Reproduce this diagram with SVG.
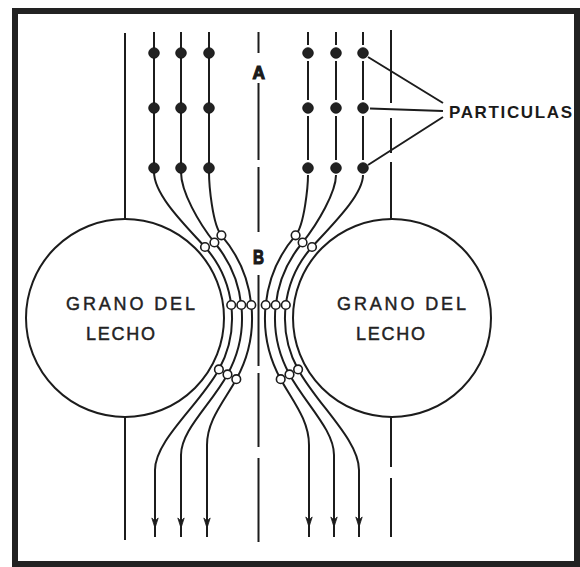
<svg xmlns="http://www.w3.org/2000/svg" xmlns:xlink="http://www.w3.org/1999/xlink" width="580" height="567" viewBox="0 0 580 567">
  <style>
    .ln { fill: none; stroke: #1c1c1c; stroke-width: 2; stroke-linecap: butt; }
    .grain { fill: none; stroke: #1c1c1c; stroke-width: 2; }
    .dot { fill: #222; stroke: #111; stroke-width: 0.8; }
    .ring { fill: #fff; stroke: #1c1c1c; stroke-width: 1.6; }
    .lbl { font-family: "Liberation Sans", Arial, sans-serif; font-size: 18px; fill: #222; stroke: #222; stroke-width: 0.45; }
    .tag { font-family: "Liberation Sans", Arial, sans-serif; font-weight: bold; fill: #1a1a1a; }
    .axis-tag { stroke: #1a1a1a; stroke-width: 1.2; }
  </style>
  <defs>
    <!-- small barbed arrowhead, tip at origin, pointing down -->
    <path id="ah" d="M-3.2,-10 L0,0 L3.2,-10 L0,-7 Z" fill="#1c1c1c" stroke="#1c1c1c" stroke-width="0.8"/>
  </defs>

  <rect x="0" y="0" width="580" height="567" fill="#fff"/>
  <!-- heavy frame -->
  <rect x="15" y="11" width="562" height="553" fill="#fff" stroke="#222" stroke-width="6"/>

  <!-- bed grains -->
  <g id="grain-left">
    <circle class="grain" cx="125" cy="318" r="99"/>
    <text class="lbl" x="66" y="310" textLength="129" lengthAdjust="spacing">GRANO DEL</text>
    <text class="lbl" x="86" y="340" textLength="69" lengthAdjust="spacing">LECHO</text>
  </g>
  <g id="grain-right">
    <circle class="grain" cx="392" cy="318" r="99"/>
    <text class="lbl" x="337" y="310" textLength="129" lengthAdjust="spacing">GRANO DEL</text>
    <text class="lbl" x="356" y="340" textLength="69" lengthAdjust="spacing">LECHO</text>
  </g>

  <!-- flow lines -->
  <g id="connectors">
    <!-- outer reference lines -->
    <path class="ln" d="M125,33 V219 M125,417 V540"/>
    <path class="ln" d="M391,30 V103 M391,118 V153 M391,162 V219 M391,417 V467 M391,478 V537"/>
    <!-- axis -->
    <path class="ln" d="M258.5,32 V53 M258.5,83 V160 M258.5,167 V232 M258.5,275 V366 M258.5,373 V447 M258.5,458 V542"/>

    <!-- left streamlines -->
    <path class="ln" d="M154,32 V172 C154,195 185,225 205,247 A107,107 0 0,1 218.9,369.4 C199.7,404.5 155,440 155,470 V537"/>
    <path class="ln" d="M181,32 V172 C181,192 198.8,222.9 214.4,242.5 A117,117 0 0,1 227.5,374.4 C210.6,405 181,430 181,455 V537"/>
    <path class="ln" d="M209,32 V172 C209,185 212.5,225 221.4,235.3 A127,127 0 0,1 236.3,379.2 C224.3,401.1 207,420 207,445 V537"/>

    <!-- right streamlines -->
    <path class="ln" d="M363,32 V45 M363,61 V100 M363,116 V160"/>
    <path class="ln" d="M336,32 V45 M336,61 V100 M336,116 V160"/>
    <path class="ln" d="M308,32 V45 M308,61 V100 M308,116 V160"/>
    <path class="ln" d="M363,175 C363,195 332,225 312,247 A107,107 0 0,0 298.1,369.4 C317.3,404.5 359,440 359,470 V537"/>
    <path class="ln" d="M336,175 C336,192 318.2,222.9 302.6,242.5 A117,117 0 0,0 289.5,374.4 C306.4,405 334,430 334,455 V537"/>
    <path class="ln" d="M308,175 C308,185 304.5,225 295.6,235.3 A127,127 0 0,0 280.7,379.2 C292.7,401.1 309,420 309,445 V537"/>

    <!-- arrowheads -->
    <use xlink:href="#ah" x="155" y="528"/>
    <use xlink:href="#ah" x="181" y="528"/>
    <use xlink:href="#ah" x="207" y="528"/>
    <use xlink:href="#ah" x="309" y="527"/>
    <use xlink:href="#ah" x="334" y="527"/>
    <use xlink:href="#ah" x="359" y="527"/>

    <!-- leaders to label -->
    <path class="ln" d="M368,57 L443,103 M370,108.5 L443,111 M368,165 L443,117" stroke-width="1.6"/>
  </g>

  <!-- suspended particles -->
  <g id="particles">
    <circle class="dot" cx="154" cy="53" r="5.3"/>
    <circle class="dot" cx="181" cy="53" r="5.3"/>
    <circle class="dot" cx="209" cy="53" r="5.3"/>
    <circle class="dot" cx="308" cy="53" r="5.3"/>
    <circle class="dot" cx="336" cy="53" r="5.3"/>
    <circle class="dot" cx="363" cy="53" r="5.3"/>
    <circle class="dot" cx="154" cy="108" r="5.3"/>
    <circle class="dot" cx="181" cy="108" r="5.3"/>
    <circle class="dot" cx="209" cy="108" r="5.3"/>
    <circle class="dot" cx="308" cy="108" r="5.3"/>
    <circle class="dot" cx="336" cy="108" r="5.3"/>
    <circle class="dot" cx="363" cy="108" r="5.3"/>
    <circle class="dot" cx="154" cy="168" r="5.3"/>
    <circle class="dot" cx="181" cy="168" r="5.3"/>
    <circle class="dot" cx="209" cy="168" r="5.3"/>
    <circle class="dot" cx="308" cy="168" r="5.3"/>
    <circle class="dot" cx="336" cy="168" r="5.3"/>
    <circle class="dot" cx="363" cy="168" r="5.3"/>
  </g>

  <!-- particles while passing the grains -->
  <g id="particles-open">
    <circle class="ring" cx="205" cy="247" r="4.3"/>
    <circle class="ring" cx="214.4" cy="242.5" r="4.3"/>
    <circle class="ring" cx="221.4" cy="235.3" r="4.3"/>
    <circle class="ring" cx="231.2" cy="305" r="4.3"/>
    <circle class="ring" cx="241.3" cy="305" r="4.3"/>
    <circle class="ring" cx="251.3" cy="305" r="4.3"/>
    <circle class="ring" cx="218.9" cy="369.4" r="4.3"/>
    <circle class="ring" cx="227.5" cy="374.4" r="4.3"/>
    <circle class="ring" cx="236.3" cy="379.2" r="4.3"/>
    <circle class="ring" cx="312" cy="247" r="4.3"/>
    <circle class="ring" cx="302.6" cy="242.5" r="4.3"/>
    <circle class="ring" cx="295.6" cy="235.3" r="4.3"/>
    <circle class="ring" cx="285.8" cy="305" r="4.3"/>
    <circle class="ring" cx="275.7" cy="305" r="4.3"/>
    <circle class="ring" cx="265.7" cy="305" r="4.3"/>
    <circle class="ring" cx="298.1" cy="369.4" r="4.3"/>
    <circle class="ring" cx="289.5" cy="374.4" r="4.3"/>
    <circle class="ring" cx="280.7" cy="379.2" r="4.3"/>
  </g>

  <!-- section labels on the axis -->
  <g id="label-A">
    <text class="tag axis-tag" x="252.5" y="79" font-size="19" textLength="12.5" lengthAdjust="spacingAndGlyphs">A</text>
  </g>
  <g id="label-B">
    <text class="tag axis-tag" x="253" y="264" font-size="20" textLength="11" lengthAdjust="spacingAndGlyphs">B</text>
  </g>
  <g id="label-particulas">
    <text class="tag" x="449" y="117.5" font-size="17" textLength="123" lengthAdjust="spacing">PARTICULAS</text>
  </g>
</svg>
